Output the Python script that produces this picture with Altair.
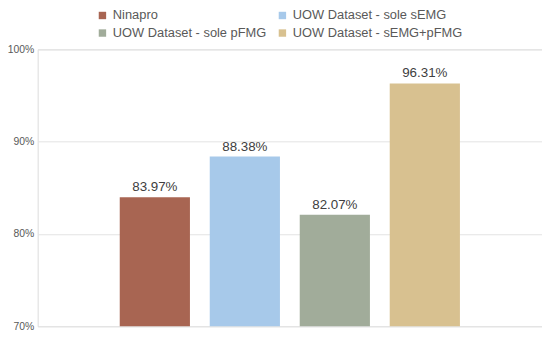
import altair as alt
import pandas as pd

series = ["Ninapro", "UOW Dataset - sole sEMG", "UOW Dataset - sole pFMG", "UOW Dataset - sEMG+pFMG"]
values = [83.97, 88.38, 82.07, 96.31]
colors = ["#A86552", "#A7C9EA", "#A1AC9A", "#D8C190"]
y_ticks = [70, 80, 90, 100]
# legend is filled column by column: this order gives the reference's rows
legend_order = [series[0], series[2], series[1], series[3]]
legend_colors = [colors[0], colors[2], colors[1], colors[3]]

df = pd.DataFrame({"series": series, "value": values})
df["label"] = [f"{v:.2f}%" for v in values]

FONT = "Liberation Sans"

x = alt.X("series:N", sort=series, axis=None,
          scale=alt.Scale(paddingInner=0.22, paddingOuter=0.912))
y = alt.Y("value:Q",
          scale=alt.Scale(domain=[70, 100], nice=False, zero=False, clamp=True),
          axis=alt.Axis(values=y_ticks, title=None, domain=False, ticks=False,
                        labelExpr="datum.value + '%'", labelFont=FONT, labelFontSize=10.5,
                        labelColor="#595959", labelPadding=4,
                        gridColor="#E3E3E3", gridWidth=1))

bars = alt.Chart(df).mark_bar().encode(
    x=x, y=y, y2=alt.datum(70),
    color=alt.Color("series:N",
                    scale=alt.Scale(domain=legend_order, range=legend_colors),
                    legend=alt.Legend(title=None, orient="none", legendX=59, legendY=-41,
                                      columns=2, columnPadding=9, rowPadding=4,
                                      symbolType="square", symbolSize=56,
                                      labelFont=FONT, labelFontSize=13, labelColor="#595959",
                                      labelLimit=300, symbolStrokeWidth=0)),
)

text = alt.Chart(df).mark_text(dy=-10, font=FONT, fontSize=13.5, color="#404040").encode(
    x=x, y=y, text="label:N"
)

chart = (bars + text).properties(
    width=510, height=280,
    autosize=alt.AutoSizeParams(type="none"),
    padding={"left": 30, "top": 40, "right": 0, "bottom": 4},
).configure_view(stroke=None).configure(background="white")

chart.save("out.html", embed_options={"renderer": "svg", "actions": False})
